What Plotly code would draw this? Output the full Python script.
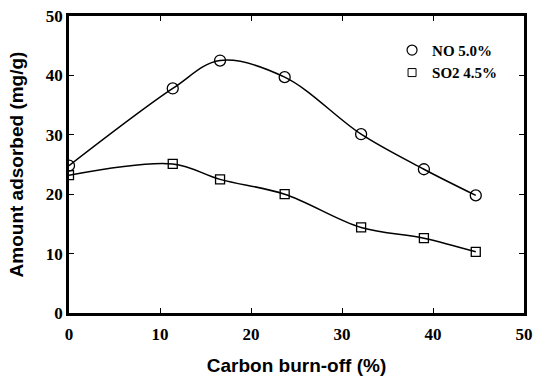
import plotly.graph_objects as go

burnoff = [0, 11.4, 16.6, 23.7, 32.1, 39.0, 44.7]
no_ads = [24.8, 37.8, 42.5, 39.7, 30.1, 24.2, 19.8]
so2_ads = [23.2, 25.1, 22.5, 20.0, 14.4, 12.6, 10.3]
x_ticks = [0, 10, 20, 30, 40, 50]
y_ticks = [0, 10, 20, 30, 40, 50]

fig = go.Figure()
fig.add_trace(go.Scatter(
    x=burnoff, y=no_ads, mode="lines+markers", name="NO 5.0%", showlegend=False,
    line=dict(color="black", width=1.5, shape="spline", smoothing=1.0),
    marker=dict(symbol="circle-open", size=11, color="black", line=dict(width=1.3)),
))
fig.add_trace(go.Scatter(
    x=burnoff, y=so2_ads, mode="lines+markers", name="SO2 4.5%", showlegend=False,
    line=dict(color="black", width=1.5, shape="spline", smoothing=1.0),
    marker=dict(symbol="square-open", size=9, color="black", line=dict(width=1.3)),
))
# legend entries (markers only)
fig.add_trace(go.Scatter(
    x=[None], y=[None], mode="markers", name="NO 5.0%",
    marker=dict(symbol="circle-open", size=10, color="black", line=dict(width=1.2)),
))
fig.add_trace(go.Scatter(
    x=[None], y=[None], mode="markers", name="SO2 4.5%",
    marker=dict(symbol="square-open", size=8, color="black", line=dict(width=1.0)),
))

axis_common = dict(
    showline=True, linecolor="black", linewidth=2.5, mirror="ticks",
    ticks="inside", ticklen=5, tickwidth=1, tickcolor="black",
    showgrid=False, zeroline=False, automargin=False,
    tickfont=dict(family="Liberation Serif", size=17, color="black", weight="bold"),
)
title_font = dict(family="Liberation Sans", size=19, color="black", weight="bold")

fig.update_layout(
    width=535, height=376,
    margin=dict(l=69, r=11, t=16, b=63),
    paper_bgcolor="white", plot_bgcolor="white",
    xaxis=dict(range=[0, 50], tickvals=x_ticks, ticklabelstandoff=4,
               title=dict(text="Carbon burn-off (%)", standoff=20, font=title_font),
               **axis_common),
    yaxis=dict(range=[0, 50], tickvals=y_ticks,
               title=dict(text="Amount adsorbed (mg/g)", standoff=18, font=title_font),
               **axis_common),
    legend=dict(x=0.71, y=0.94, xanchor="left", yanchor="top",
                bgcolor="rgba(0,0,0,0)",
                font=dict(family="Liberation Serif", size=15, color="black", weight="bold"),
                itemwidth=30, tracegroupgap=0),
    showlegend=True,
)

fig.write_html("out.html")
